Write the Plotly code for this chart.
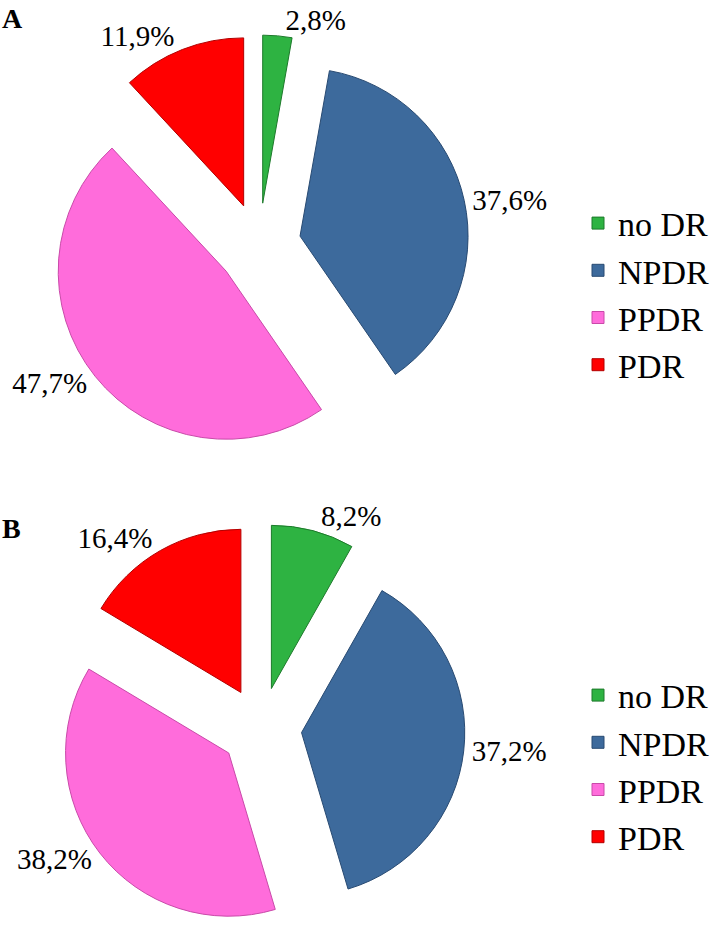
import plotly.graph_objects as go

labels = ["no DR", "NPDR", "PPDR", "PDR"]
values_a = [2.8, 37.6, 47.7, 11.9]
values_b = [8.2, 37.2, 38.2, 16.4]
colors = ["#2eb342", "#3d6a9c", "#ff6cdb", "#ff0000"]
edges = ["#1d7a2b", "#284a72", "#c94aa9", "#b30000"]

serif = "Liberation Serif, Times New Roman, serif"
W, H = 718, 932

fig = go.Figure()

# panel A
fig.add_trace(go.Pie(
    labels=labels, values=values_a, sort=False, direction="clockwise",
    pull=0.25, textposition="outside", texttemplate="%{percent:.1%}",
    marker=dict(colors=colors, line=dict(color=edges, width=1)),
    textfont=dict(family=serif, size=29, color="black"),
    domain=dict(x=[49 / W, 469 / W], y=[1 - 455 / H, 1 - 35 / H]),
    legend="legend", legendgroup="a", showlegend=True,
))

# panel B (own legendgroup so its slices get their own legend entries)
fig.add_trace(go.Pie(
    labels=labels, values=values_b, sort=False, direction="clockwise",
    pull=0.25, textposition="outside", texttemplate="%{percent:.1%}",
    marker=dict(colors=colors, line=dict(color=edges, width=1)),
    textfont=dict(family=serif, size=29, color="black"),
    domain=dict(x=[57 / W, 465 / W], y=[0, 1 - 524 / H]),
    legend="legend2", legendgroup="b", showlegend=True,
))

leg = dict(font=dict(family=serif, size=34, color="black"),
           xanchor="left", yanchor="middle", x=578 / W, bgcolor="rgba(0,0,0,0)")

fig.update_layout(
    width=W, height=H,
    margin=dict(l=0, r=0, t=0, b=0, autoexpand=False),
    paper_bgcolor="white",
    separators=",.",
    font=dict(family=serif),
    legend=dict(leg, y=1 - 294 / H),
    legend2=dict(leg, y=1 - 766 / H),
    annotations=[
        dict(text="<b>A</b>", x=0, y=1 - 18 / H, xref="paper", yref="paper",
             xanchor="left", yanchor="middle", showarrow=False,
             font=dict(family=serif, size=28, color="black")),
        dict(text="<b>B</b>", x=0, y=1 - 528 / H, xref="paper", yref="paper",
             xanchor="left", yanchor="middle", showarrow=False,
             font=dict(family=serif, size=28, color="black")),
    ],
)

fig.write_html("out.html", config={"displayModeBar": False},
               post_script="document.body.style.margin='0';")
